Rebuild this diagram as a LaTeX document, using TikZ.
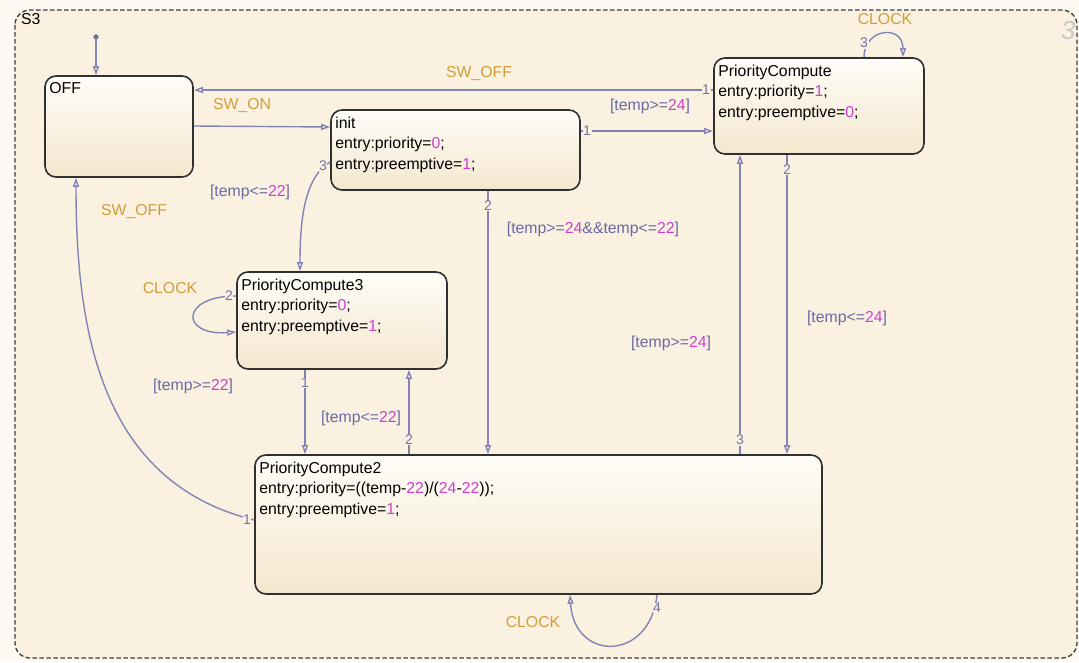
\documentclass[tikz,border=0pt]{standalone}
\usepackage{fontspec}
\setmainfont{Liberation Sans}
\usetikzlibrary{arrows.meta}

\definecolor{pagec}{HTML}{FDFAF3}
\definecolor{bgc}{HTML}{FAF1E1}
\definecolor{framec}{HTML}{3C3C3C}
\definecolor{edgec}{HTML}{303030}
\definecolor{stopc}{HTML}{FFFDF8}
\definecolor{sbotc}{HTML}{F4E7CE}
\definecolor{linec}{HTML}{8383B4}
\definecolor{tnumc}{HTML}{7373A6}
\definecolor{guardc}{HTML}{6A6AA2}
\definecolor{numc}{HTML}{CC3FCC}
\definecolor{eventc}{HTML}{D39D38}
\definecolor{idc}{HTML}{C9C9C9}

\newcommand{\numv}[1]{\textcolor{numc}{#1}}

\begin{document}
\begin{tikzpicture}[x=1pt,y=-1pt,
  state/.style={draw=edgec, line width=1.6pt, rounded corners=11pt,
    top color=stopc, bottom color=sbotc, inner sep=0pt},
  stext/.style={anchor=north west, inner xsep=5pt, inner ysep=7.5pt, align=left,
    font=\fontsize{15.8}{20.5}\selectfont, text=black},
  tr/.style={draw=linec, line width=1.4pt, -{Triangle[open,length=9pt,width=6pt]}},
  tnum/.style={font=\fontsize{14}{14}\selectfont, text=tnumc, fill=bgc, inner sep=0.6pt},
  event/.style={font=\fontsize{15.8}{15.8}\selectfont, text=eventc},
  guard/.style={font=\fontsize{15.8}{15.8}\selectfont, text=guardc}]

\useasboundingbox (0,0) rectangle (1079,662);
\fill[pagec] (0,0) rectangle (1079,662);

% chart S3
\draw[framec, line width=1.3pt, dash pattern=on 4.5pt off 2.5pt, rounded corners=15pt, fill=bgc]
  (15,10) rectangle (1077,658);
\node[anchor=north west, inner sep=0pt, font=\fontsize{15.8}{15.8}\selectfont] (s3) at (21,13) {S3};
\node[font=\fontsize{26}{26}\selectfont\itshape, text=idc] (chartid) at (1068,31) {3};

% states
\node[state, minimum width=148pt, minimum height=101pt] (off)  at (119,126.5) {};
\node[state, minimum width=249pt, minimum height=80pt]  (init) at (455.5,150) {};
\node[state, minimum width=210pt, minimum height=96pt]  (pc)   at (819,106) {};
\node[state, minimum width=210pt, minimum height=97pt]  (pc3)  at (342,320.5) {};
\node[state, minimum width=567pt, minimum height=139pt] (pc2)  at (538.5,524.5) {};

\node[stext] (offt)  at (off.north west)  {OFF};
\node[stext] (initt) at (init.north west) {init\\entry:priority=\numv{0};\\entry:preemptive=\numv{1};};
\node[stext] (pct)   at (pc.north west)   {PriorityCompute\\entry:priority=\numv{1};\\entry:preemptive=\numv{0};};
\node[stext] (pc3t)  at (pc3.north west)  {PriorityCompute3\\entry:priority=\numv{0};\\entry:preemptive=\numv{1};};
\node[stext] (pc2t)  at (pc2.north west)  {PriorityCompute2\\entry:priority=((temp-\numv{22})/(\numv{24}-\numv{22}));\\entry:preemptive=\numv{1};};

% default transition
\fill[linec!80!black] (96,37) circle (2.6pt);
\coordinate (dflt) at (96,37);
\draw[tr] (dflt) -- (off.north -| dflt);

% transitions
\draw[tr] (pc.west |- 0,90) -- (off.east |- 0,90);
\draw[tr] (off.east |- 0,126) -- (init.west |- 0,127);
\draw[tr] (init.east |- 0,131) -- (pc.west |- 0,131);
\draw[tr] (init.west |- 0,162) .. controls (303,178) and (300,225) .. (pc3.north -| 300,0);
\draw[tr] (init.south -| 488,0) -- (pc2.north -| 488,0);
\draw[tr] (pc.south -| 787,0) -- (pc2.north -| 787,0);
\draw[tr] (pc2.north -| 740,0) -- (pc.south -| 740,0);
\draw[tr] (pc.north -| 864,0) .. controls (864,28) and (903,24) .. (pc.north -| 903,0);
\draw[tr] (pc3.south -| 305,0) -- (pc2.north -| 305,0);
\draw[tr] (pc2.north -| 409,0) -- (pc3.south -| 409,0);
\draw[tr] (pc3.west |- 0,296) .. controls (180,296) and (180,336) .. (pc3.west |- 0,332);
\draw[tr] (pc2.west |- 0,520) .. controls (100,482) and (76,330) .. (off.south -| 76,0);
\draw[tr] (pc2.south -| 657,0) .. controls (650,662) and (574,662) .. (pc2.south -| 570,0);

% transition order numbers
\node[tnum] (n1) at (706,90)  {1};
\node[tnum] (n2) at (587,131) {1};
\node[tnum] (n3) at (323,166) {3};
\node[tnum] (n4) at (488,206) {2};
\node[tnum] (n5) at (787,170) {2};
\node[tnum] (n6) at (740,440) {3};
\node[tnum] (n7) at (864,43)  {3};
\node[tnum] (n8) at (305,383) {1};
\node[tnum] (n9) at (409,440) {2};
\node[tnum] (n10) at (229,296) {2};
\node[tnum] (n11) at (247,520) {1};
\node[tnum] (n12) at (657,608) {4};

% transition labels
\node[event] (l1) at (479,74)  {SW\_OFF};
\node[event] (l2) at (242,106) {SW\_ON};
\node[guard] (l3) at (650,106) {[temp>=\numv{24}]};
\node[guard] (l4) at (250,192) {[temp<=\numv{22}]};
\node[guard] (l5) at (593,229) {[temp>=\numv{24}\&\&temp<=\numv{22}]};
\node[guard] (l6) at (847,318) {[temp<=\numv{24}]};
\node[guard] (l7) at (671,343) {[temp>=\numv{24}]};
\node[event] (l8) at (885,19)  {CLOCK};
\node[guard] (l9) at (193,386) {[temp>=\numv{22}]};
\node[guard] (l10) at (361,418) {[temp<=\numv{22}]};
\node[event] (l11) at (170,288) {CLOCK};
\node[event] (l12) at (134,212) {SW\_OFF};
\node[event] (l13) at (533,622) {CLOCK};

\end{tikzpicture}
\end{document}
